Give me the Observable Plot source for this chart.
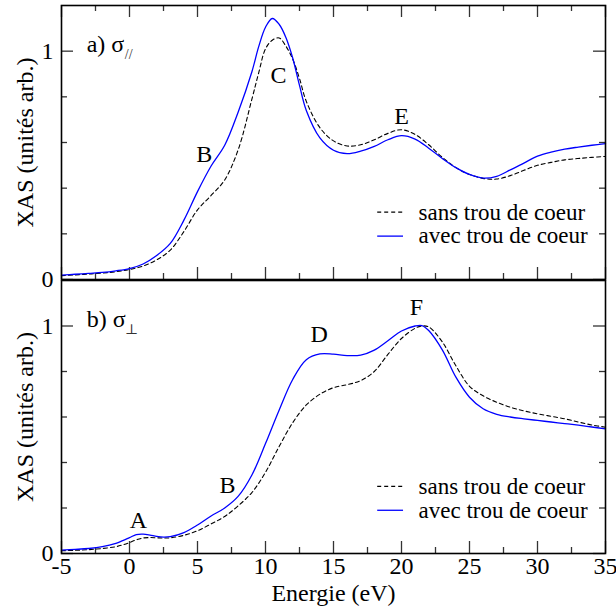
<!DOCTYPE html>
<html>
<head>
<meta charset="utf-8">
<script src="https://cdn.jsdelivr.net/npm/d3@7"></script>
<script src="https://cdn.jsdelivr.net/npm/@observablehq/plot@0.6"></script>
<style>
  html, body { margin: 0; padding: 0; background: white; }
  #wrap { position: relative; width: 616px; height: 610px; }
  #wrap > div, #wrap > svg { position: absolute; left: 0; }
  #wrap svg, #wrap svg text { font-family: "Liberation Serif", "DejaVu Serif", serif !important; }
</style>
</head>
<body>
<div id="wrap"></div>
<script>
// ---- Data ----
const seriesNames = ["sans trou de coeur", "avec trou de coeur"];

// Panel a) sigma parallel
const energyA = [-5,-4,-3,-2,-1,0,1,2,3,4,5,6,7,8,9,9.5,10,10.5,11,11.5,12,12.5,13,14,15,16,17,18,19,20,21,22,23,24,25,26,27,28,29,30,31,32,33,34,35];
const sansA  = [0.017,0.020,0.024,0.028,0.034,0.044,0.059,0.086,0.129,0.210,0.305,0.368,0.436,0.570,0.790,0.905,1.010,1.048,1.058,1.022,0.965,0.880,0.780,0.665,0.607,0.585,0.590,0.612,0.640,0.656,0.635,0.590,0.535,0.490,0.460,0.443,0.440,0.455,0.478,0.500,0.513,0.524,0.530,0.535,0.539];
const avecA  = [0.019,0.023,0.027,0.031,0.038,0.048,0.068,0.105,0.158,0.260,0.385,0.497,0.588,0.735,0.910,1.020,1.105,1.143,1.118,1.060,0.970,0.850,0.740,0.620,0.566,0.551,0.562,0.583,0.612,0.630,0.615,0.575,0.530,0.490,0.460,0.444,0.452,0.480,0.510,0.540,0.558,0.571,0.580,0.588,0.595];

// Panel b) sigma perpendicular
const energyB = [-5,-4,-3,-2,-1,-0.5,0,0.5,1,1.5,2,2.5,3,4,5,6,7,8,9,10,11,12,13,14,15,16,17,18,19,20,21,21.5,22,23,24,25,26,27,28,29,30,31,32,33,34,35];
const sansB  = [0.012,0.014,0.017,0.022,0.030,0.038,0.048,0.060,0.068,0.070,0.069,0.068,0.069,0.080,0.100,0.130,0.163,0.210,0.268,0.357,0.470,0.575,0.653,0.700,0.729,0.742,0.760,0.800,0.875,0.945,0.990,1.000,0.996,0.930,0.825,0.735,0.693,0.665,0.643,0.627,0.614,0.603,0.592,0.578,0.565,0.555];
const avecB  = [0.015,0.018,0.022,0.030,0.045,0.057,0.070,0.083,0.085,0.081,0.075,0.072,0.074,0.092,0.125,0.165,0.200,0.252,0.345,0.483,0.630,0.765,0.852,0.877,0.876,0.870,0.872,0.894,0.935,0.978,1.000,1.002,0.980,0.895,0.775,0.687,0.636,0.612,0.600,0.592,0.585,0.578,0.571,0.564,0.556,0.548];

// Tick values
const xMajor = [-5,0,5,10,15,20,25,30,35];
const xMinor = [-2.5,2.5,7.5,12.5,17.5,22.5,27.5,32.5];
const yMajor = [0,1];
const yMinor = [0.2,0.4,0.6,0.8];

// Feature labels
const featA = [{t:"B", e:5.5, v:0.55}, {t:"C", e:10.95, v:0.893}, {t:"E", e:20.0, v:0.713}];
const featB = [{t:"A", e:0.65, v:0.144}, {t:"B", e:7.2, v:0.30}, {t:"D", e:13.95, v:0.964}, {t:"F", e:21.1, v:1.08}];

// ---- Drawing ----
const FONT = "Liberation Serif";
const W = 616, ML = 61, MR = 11;
const frameW = W - ML - MR;
const TICK = "#333";

function panel({energy, sans, avec, feats, title, sub, height, marginTop, marginBottom, topTicks, xLabels}) {
  const H = height - marginTop - marginBottom;
  const rows = (vals) => energy.map((e, i) => ({e, v: vals[i]}));
  const marks = [
    Plot.tickX(xMajor, {x: d => d, insetTop: H - 12, stroke: TICK, strokeWidth: 1.3}),
    Plot.tickX(xMinor, {x: d => d, insetTop: H - 6, stroke: TICK, strokeWidth: 1.3}),
    Plot.tickY(yMajor, {y: d => d, insetRight: frameW - 12, stroke: TICK, strokeWidth: 1.3}),
    Plot.tickY(yMinor, {y: d => d, insetRight: frameW - 6, stroke: TICK, strokeWidth: 1.3}),
    Plot.tickY(yMajor, {y: d => d, insetLeft: frameW - 12, stroke: TICK, strokeWidth: 1.3}),
    Plot.tickY(yMinor, {y: d => d, insetLeft: frameW - 6, stroke: TICK, strokeWidth: 1.3}),
  ];
  if (topTicks) {
    marks.push(
      Plot.tickX(xMajor, {x: d => d, insetBottom: H - 12, stroke: TICK, strokeWidth: 1.3}),
      Plot.tickX(xMinor, {x: d => d, insetBottom: H - 6, stroke: TICK, strokeWidth: 1.3})
    );
  }
  marks.push(
    Plot.line(rows(sans), {x: "e", y: "v", stroke: "black", strokeWidth: 1.1, strokeDasharray: "4,3", curve: "catmull-rom"}),
    Plot.line(rows(avec), {x: "e", y: "v", stroke: "#0000ff", strokeWidth: 1.3, curve: "catmull-rom"}),
    Plot.frame({stroke: "black", strokeWidth: 1.6}),
    Plot.axisY({ticks: yMajor, tickSize: 0, tickPadding: 8, tickFormat: d => String(d), fontSize: 24, fontFamily: FONT,
      label: "XAS (unités arb.)", labelAnchor: "center", labelArrow: "none", labelOffset: 46}),
    Plot.text(feats, {x: "e", y: "v", text: "t", fontSize: 24, fontFamily: FONT, fill: "black"}),
    Plot.text([title], {x: -3.15, y: 1.03, text: d => d, textAnchor: "start", fontSize: 24, fontFamily: FONT, fill: "black"}),
    Plot.text([sub], {x: -0.35, y: 0.985, text: d => d, textAnchor: "start", fontSize: 14, fontFamily: FONT, fill: "#333"}),
    Plot.ruleY([0.295], {x1: 18.25, x2: 20.15, stroke: "black", strokeWidth: 1.1, strokeDasharray: "4,3"}),
    Plot.ruleY([0.19], {x1: 18.25, x2: 20.15, stroke: "#0000ff", strokeWidth: 1.3}),
    Plot.text([seriesNames[0]], {x: 21.25, y: 0.295, text: d => d, textAnchor: "start", fontSize: 23, fontFamily: FONT, fill: "black"}),
    Plot.text([seriesNames[1]], {x: 21.25, y: 0.19, text: d => d, textAnchor: "start", fontSize: 23, fontFamily: FONT, fill: "black"})
  );
  if (xLabels) {
    marks.push(Plot.axisX({ticks: xMajor, tickSize: 0, tickPadding: 3, tickFormat: d => String(d), fontSize: 24, fontFamily: FONT,
      label: "Energie (eV)", labelAnchor: "center", labelArrow: "none", labelOffset: 47}));
  }
  return Plot.plot({
    width: W, height, marginLeft: ML, marginRight: MR, marginTop, marginBottom,
    x: {domain: [-5, 35], axis: null},
    y: {domain: [0, 1.2], axis: null},
    style: {fontFamily: FONT, fontSize: "24px", background: "white", color: "black", overflow: "visible"},
    marks
  });
}

const panelA = panel({energy: energyA, sans: sansA, avec: avecA, feats: featA, title: "a) σ", sub: "//",
  height: 280, marginTop: 5, marginBottom: 1, topTicks: true, xLabels: false});
const panelB = panel({energy: energyB, sans: sansB, avec: avecB, feats: featB, title: "b) σ", sub: "⊥",
  height: 331, marginTop: 1, marginBottom: 57, topTicks: false, xLabels: true});

const wrap = document.getElementById("wrap");
panelB.style.top = "279px";
panelA.style.top = "0px";
wrap.appendChild(panelB);
wrap.appendChild(panelA);
</script>
</body>
</html>
